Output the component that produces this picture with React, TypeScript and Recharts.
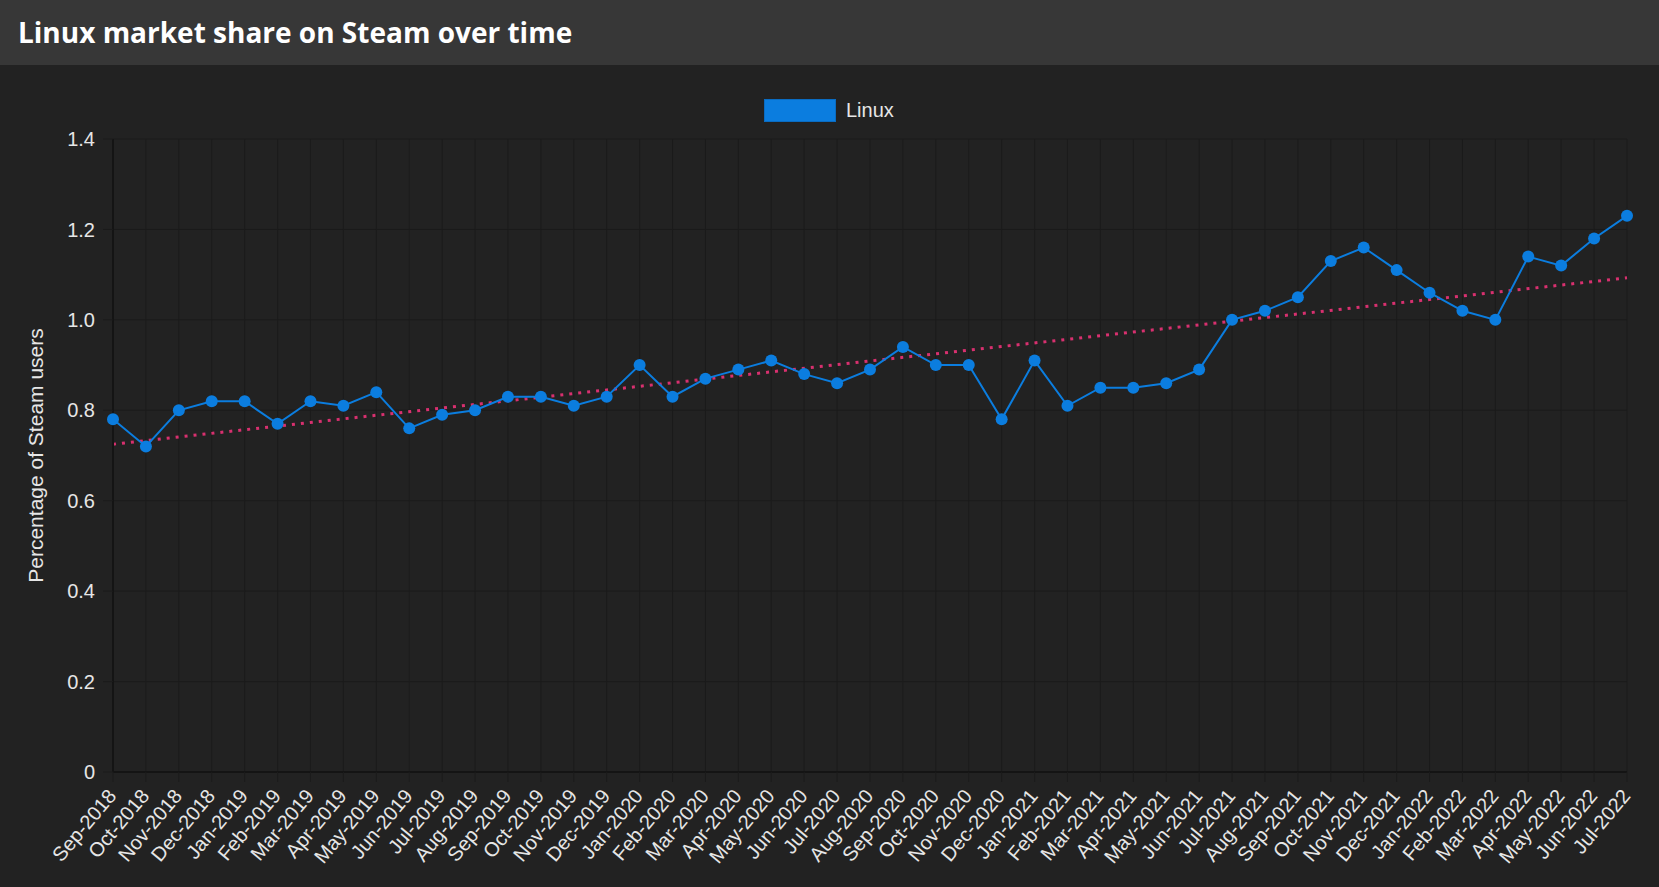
import React from 'react';
import { CartesianGrid, Line, LineChart, XAxis, YAxis } from 'recharts';

const months = [
  'Sep-2018', 'Oct-2018', 'Nov-2018', 'Dec-2018',
  'Jan-2019', 'Feb-2019', 'Mar-2019', 'Apr-2019', 'May-2019', 'Jun-2019',
  'Jul-2019', 'Aug-2019', 'Sep-2019', 'Oct-2019', 'Nov-2019', 'Dec-2019',
  'Jan-2020', 'Feb-2020', 'Mar-2020', 'Apr-2020', 'May-2020', 'Jun-2020',
  'Jul-2020', 'Aug-2020', 'Sep-2020', 'Oct-2020', 'Nov-2020', 'Dec-2020',
  'Jan-2021', 'Feb-2021', 'Mar-2021', 'Apr-2021', 'May-2021', 'Jun-2021',
  'Jul-2021', 'Aug-2021', 'Sep-2021', 'Oct-2021', 'Nov-2021', 'Dec-2021',
  'Jan-2022', 'Feb-2022', 'Mar-2022', 'Apr-2022', 'May-2022', 'Jun-2022',
  'Jul-2022',
];

const linuxShare = [
  0.78, 0.72, 0.8, 0.82,
  0.82, 0.77, 0.82, 0.81, 0.84, 0.76,
  0.79, 0.8, 0.83, 0.83, 0.81, 0.83,
  0.9, 0.83, 0.87, 0.89, 0.91, 0.88,
  0.86, 0.89, 0.94, 0.9, 0.9, 0.78,
  0.91, 0.81, 0.85, 0.85, 0.86, 0.89,
  1.0, 1.02, 1.05, 1.13, 1.16, 1.11,
  1.06, 1.02, 1.0, 1.14, 1.12, 1.18,
  1.23,
];

// trend line, only its two ends are given
const trendEnds = [0.725, 1.093];

const yTicks = [0, 0.2, 0.4, 0.6, 0.8, 1.0, 1.2, 1.4];

const data = months.map((month, i) => ({
  month,
  linux: linuxShare[i],
  trend: i === 0 ? trendEnds[0] : i === months.length - 1 ? trendEnds[1] : null,
}));

const FONT = '"Liberation Sans", Arial, sans-serif';
const TEXT = '#e6e6e6';
const GRID = '#1b1b1b';
const AXIS = '#141414';
const BLUE = '#0b7ddf';
const PINK = '#d8306f';

const MonthTick = (props: any) => {
  const { x, y, payload } = props;
  return (
    <g transform={`translate(${x - 1},${y + 8})`}>
      <text
        x={0}
        y={0}
        dy="0.35em"
        textAnchor="end"
        fill={TEXT}
        fontSize={20}
        fontFamily={FONT}
        transform="rotate(-50)"
      >
        {payload.value}
      </text>
    </g>
  );
};

const YLabel = (props: any) => {
  const { viewBox } = props;
  const cy = viewBox.y + viewBox.height / 2;
  return (
    <text
      x={35}
      y={cy}
      textAnchor="middle"
      dominantBaseline="central"
      fill={TEXT}
      fontSize={21}
      fontFamily={FONT}
      transform={`rotate(-90, 35, ${cy})`}
    >
      Percentage of Steam users
    </text>
  );
};

export default function App() {
  return (
    <div style={{ position: 'absolute', left: 0, top: 0, width: 1659, height: 887, background: '#222222' }}>
      <div
        style={{
          height: 65,
          background: '#373737',
          color: '#ffffff',
          fontFamily: '"Open Sans", sans-serif',
          fontWeight: 700,
          fontSize: 28,
          lineHeight: '65px',
          paddingLeft: 18,
        }}
      >
        Linux market share on Steam over time
      </div>

      <div style={{ position: 'absolute', left: 764, top: 99, display: 'flex', alignItems: 'center', fontFamily: FONT }}>
        <div style={{ width: 70, height: 21, background: BLUE, border: '1px solid #0a6cc2' }} />
        <span style={{ marginLeft: 10, fontSize: 20, color: TEXT }}>Linux</span>
      </div>

      <LineChart width={1659} height={822} data={data} margin={{ top: 74, right: 32, bottom: 0, left: 0 }}>
        <CartesianGrid stroke={GRID} vertical={true} horizontal={true} />
        <XAxis
          dataKey="month"
          interval={0}
          height={115}
          tick={<MonthTick />}
          tickSize={10}
          tickMargin={2}
          tickLine={{ stroke: GRID }}
          axisLine={{ stroke: AXIS, strokeWidth: 2 }}
        />
        <YAxis
          width={113}
          domain={[0, 1.4]}
          ticks={yTicks}
          interval={0}
          tickSize={10}
          tickMargin={8}
          tickLine={{ stroke: GRID }}
          axisLine={{ stroke: AXIS, strokeWidth: 2 }}
          tick={{ fill: TEXT, fontSize: 20, fontFamily: FONT }}
          tickFormatter={(v: number) => (v === 0 ? '0' : v.toFixed(1))}
          label={<YLabel />}
        />
        <Line
          dataKey="trend"
          type="linear"
          stroke={PINK}
          strokeWidth={3}
          strokeDasharray="3 6"
          dot={false}
          activeDot={false}
          connectNulls
          isAnimationActive={false}
        />
        <Line
          dataKey="linux"
          type="linear"
          stroke={BLUE}
          strokeWidth={2}
          dot={{ r: 6, fill: BLUE, stroke: 'none' }}
          activeDot={false}
          isAnimationActive={false}
        />
      </LineChart>
    </div>
  );
}
